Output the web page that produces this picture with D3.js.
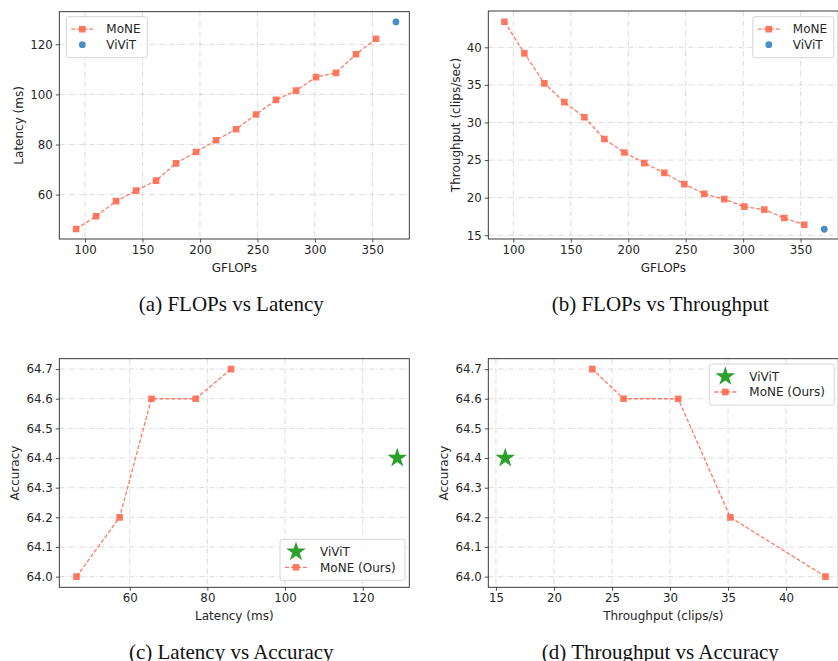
<!DOCTYPE html>
<html>
<head>
<meta charset="utf-8">
<script src="https://cdn.jsdelivr.net/npm/d3@7"></script>
<style>
  body { margin: 0; background: #fff; }
  svg { display: block; }
  .tick text { font-family: "DejaVu Sans", sans-serif; font-size: 11.8px; fill: #262626; }
  .lbl { font-family: "DejaVu Sans", sans-serif; font-size: 12px; fill: #262626; }
  .cap { font-family: "Liberation Serif", "Times New Roman", serif; font-size: 21px; fill: #111; }
</style>
</head>
<body>
<div id="chart"></div>
<script>
// MoNE measurements
var gflops     = [92.2, 109.6, 127, 144.4, 161.8, 179.2, 196.6, 214, 231.4, 248.8, 266.2, 283.6, 301, 318.4, 335.8, 353.2];
var latency    = [46.3, 51.4, 57.4, 61.6, 65.6, 72.5, 77, 81.7, 86.1, 92, 97.8, 101.5, 106.9, 108.6, 116, 122.2];
var throughput = [43.4, 39.2, 35.2, 32.7, 30.7, 27.8, 26.0, 24.6, 23.3, 21.8, 20.5, 19.8, 18.8, 18.4, 17.3, 16.4];

// ViViT baseline
var vivitGflops = 370.6;
var vivitLatency = 128.9;
var vivitThroughput = 15.8;
var vivitAccuracy = 64.4;

// accuracy trade-off (MoNE, ours)
var accLatency    = [46.3, 57.4, 65.6, 77, 86.1];
var accThroughput = [43.4, 35.2, 30.7, 26.0, 23.3];
var accuracy      = [64.0, 64.2, 64.6, 64.6, 64.7];

var xTicksFlops = [100, 150, 200, 250, 300, 350];
var yTicksLat   = [60, 80, 100, 120];
var yTicksThr   = [15, 20, 25, 30, 35, 40];
var xTicksLat   = [60, 80, 100, 120];
var xTicksThr   = [15, 20, 25, 30, 35, 40];
var yTicksAcc   = [64.0, 64.1, 64.2, 64.3, 64.4, 64.5, 64.6, 64.7];

var captions = ["(a) FLOPs vs Latency", "(b) FLOPs vs Throughput", "(c) Latency vs Accuracy", "(d) Throughput vs Accuracy"];

var MONE = "#ff6347", VIVIT = "#4a8fc4", STAR = "#2ca02c";

var svg = d3.select("#chart").append("svg").attr("width", 838).attr("height", 661);

function panel(opt) {
  var g = svg.append("g").attr("transform", "translate(" + opt.left + "," + opt.top + ")");
  var w = 350, h = opt.h;
  var x = d3.scaleLinear().domain(opt.xdom).range([0, w]);
  var y = d3.scaleLinear().domain(opt.ydom).range([h, 0]);

  var clipId = "clip" + opt.id;
  g.append("clipPath").attr("id", clipId).append("rect").attr("width", w).attr("height", h);

  // grid
  var grid = g.append("g").style("stroke", "#d6d6d6").style("stroke-width", 0.9).style("stroke-dasharray", "5,2,1,2");
  grid.selectAll("line.gx").data(opt.xticks).enter().append("line")
      .attr("x1", d => x(d)).attr("x2", d => x(d)).attr("y1", 0).attr("y2", h);
  grid.selectAll("line.gy").data(opt.yticks).enter().append("line")
      .attr("x1", 0).attr("x2", w).attr("y1", d => y(d)).attr("y2", d => y(d));

  var xa = g.append("g").attr("transform", "translate(0," + h + ")")
      .call(d3.axisBottom(x).tickValues(opt.xticks).tickSize(3.5).tickPadding(3).tickFormat(opt.xfmt || d3.format("d")));
  var ya = g.append("g")
      .call(d3.axisLeft(y).tickValues(opt.yticks).tickSize(3.5).tickPadding(3).tickFormat(opt.yfmt || d3.format("d")));
  [xa, ya].forEach(function(a){
    a.select(".domain").remove();
    a.selectAll("line").style("stroke", "#262626").style("stroke-width", 0.8);
  });

  var plot = g.append("g").attr("clip-path", "url(#" + clipId + ")");
  var pts = opt.xs.map((v, i) => [v, opt.ys[i]]);
  var line = d3.line().x(d => x(d[0])).y(d => y(d[1]));
  plot.append("path").attr("d", line(pts))
      .style("fill", "none").style("stroke", MONE).style("stroke-width", 1.3)
      .style("stroke-dasharray", "4,2").style("opacity", 0.85);
  plot.selectAll("path.sq").data(pts).enter().append("path")
      .attr("class", "sq")
      .attr("transform", d => "translate(" + x(d[0]) + "," + y(d[1]) + ")")
      .attr("d", d3.symbol().type(d3.symbolSquare).size(44))
      .style("fill", MONE).style("opacity", 0.85);

  if (opt.star) {
    plot.append("path")
        .attr("transform", "translate(" + x(opt.vx) + "," + y(opt.vy) + ")")
        .attr("d", d3.symbol().type(d3.symbolStar).size(120))
        .style("fill", STAR);
  } else {
    plot.append("circle").attr("cx", x(opt.vx)).attr("cy", y(opt.vy)).attr("r", 3.4)
        .style("fill", VIVIT);
  }

  // frame
  g.append("rect").attr("width", w).attr("height", h)
      .style("fill", "none").style("stroke", "#262626").style("stroke-width", 0.9);

  g.append("text").attr("class", "lbl")
      .attr("x", w / 2).attr("y", h + 33).attr("text-anchor", "middle").text(opt.xlabel);
  g.append("text").attr("class", "lbl")
      .attr("transform", "translate(" + opt.ylabelX + "," + (h / 2) + ") rotate(-90)")
      .attr("text-anchor", "middle").attr("dy", "0.35em").text(opt.ylabel);

  // legend
  var lg = g.append("g").attr("transform", "translate(" + opt.legX + "," + opt.legY + ")");
  lg.append("rect").attr("width", opt.legW).attr("height", 41).attr("rx", 2.5)
      .style("fill", "white").style("fill-opacity", 0.85).style("stroke", "#d0d0d0").style("stroke-width", 0.9);
  var items = opt.star ? [["ViViT", "star"], ["MoNE (Ours)", "mone"]] : [["MoNE", "mone"], ["ViViT", "dot"]];
  items.forEach(function(it, i){
    var yy = 12.5 + i * 15.5;
    var row = lg.append("g").attr("transform", "translate(0," + yy + ")");
    if (it[1] === "mone") {
      row.append("line").attr("x1", 5).attr("x2", 27).style("stroke", MONE).style("stroke-width", 1.3)
          .style("stroke-dasharray", "4,2").style("opacity", 0.85);
      row.append("path").attr("transform", "translate(16,0)")
          .attr("d", d3.symbol().type(d3.symbolSquare).size(44)).style("fill", MONE).style("opacity", 0.85);
    } else if (it[1] === "dot") {
      row.append("circle").attr("cx", 16).attr("r", 3.4).style("fill", VIVIT);
    } else {
      row.append("path").attr("transform", "translate(16,0)")
          .attr("d", d3.symbol().type(d3.symbolStar).size(120)).style("fill", STAR);
    }
    row.append("text").attr("class", "lbl").attr("x", 40).attr("dy", "0.35em").text(it[0]);
  });

  svg.append("text").attr("class", "cap")
      .attr("x", opt.left + w / 2 - 3).attr("y", opt.capY).attr("text-anchor", "middle").text(opt.caption);
}

panel({id: "a", left: 59.3, top: 11.7, h: 227.3, xdom: [77.6, 382.2], ydom: [42.3, 133],
  xticks: xTicksFlops, yticks: yTicksLat, xs: gflops, ys: latency, vx: vivitGflops, vy: vivitLatency,
  xlabel: "GFLOPs", ylabel: "Latency (ms)", ylabelX: -41,
  legX: 7, legY: 5, legW: 81, caption: captions[0], capY: 311});

panel({id: "b", left: 488.3, top: 11, h: 228, xdom: [78.2, 382.8], ydom: [14.5, 44.83],
  xticks: xTicksFlops, yticks: yTicksThr, xs: gflops, ys: throughput, vx: vivitGflops, vy: vivitThroughput,
  xlabel: "GFLOPs", ylabel: "Throughput (clips/sec)", ylabelX: -33,
  legX: 264.5, legY: 5.7, legW: 81, caption: captions[1], capY: 311});

panel({id: "c", left: 59.3, top: 358.7, h: 228.6, xdom: [41.87, 132], ydom: [63.964, 64.735],
  xticks: xTicksLat, yticks: yTicksAcc, xs: accLatency, ys: accuracy, vx: vivitLatency, vy: vivitAccuracy,
  yfmt: d3.format(".1f"), star: true,
  xlabel: "Latency (ms)", ylabel: "Accuracy", ylabelX: -45,
  legX: 220.7, legY: 180.6, legW: 125, caption: captions[2], capY: 659});

panel({id: "d", left: 488.3, top: 358.7, h: 228.6, xdom: [14.34, 44.5], ydom: [63.964, 64.735],
  xticks: xTicksThr, yticks: yTicksAcc, xs: accThroughput, ys: accuracy, vx: vivitThroughput, vy: vivitAccuracy,
  yfmt: d3.format(".1f"), star: true,
  xlabel: "Throughput (clips/s)", ylabel: "Accuracy", ylabelX: -45,
  legX: 221, legY: 5.3, legW: 125, caption: captions[3], capY: 659});
</script>
</body>
</html>
